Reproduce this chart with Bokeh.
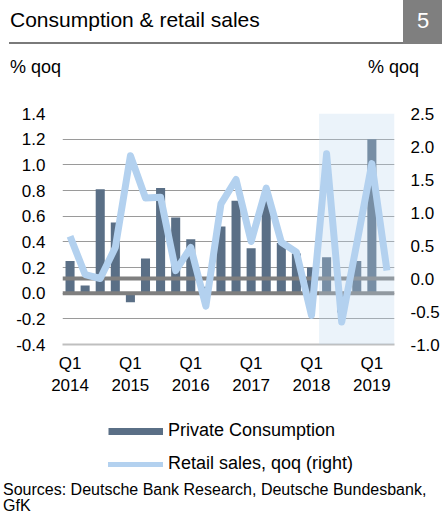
from bokeh.plotting import figure
from bokeh.models import (Range1d, LinearAxis, FixedTicker, NumeralTickFormatter,
                          BoxAnnotation, Span, Legend, LegendItem, ColumnDataSource, Div)
from bokeh.layouts import column
from bokeh.embed import file_html
from bokeh.resources import INLINE
import html
import numpy as np

FONT = "Liberation Sans"
CSSFONT = "Liberation Sans, Arial, sans-serif"

quarters = ["Q1 2014", "Q2 2014", "Q3 2014", "Q4 2014",
            "Q1 2015", "Q2 2015", "Q3 2015", "Q4 2015",
            "Q1 2016", "Q2 2016", "Q3 2016", "Q4 2016",
            "Q1 2017", "Q2 2017", "Q3 2017", "Q4 2017",
            "Q1 2018", "Q2 2018", "Q3 2018", "Q4 2018",
            "Q1 2019", "Q2 2019"]
consumption = [0.25, 0.06, 0.81, 0.55, -0.07, 0.27, 0.82, 0.59, 0.42, 0.05,
               0.52, 0.72, 0.35, 0.73, 0.39, 0.31, 0.20, 0.28, -0.15, 0.25,
               1.20, np.nan]
retail = [0.64, 0.06, 0.00, 0.47, 1.86, 1.22, 1.23, 0.12, 0.47, -0.42,
          1.13, 1.50, 0.56, 1.37, 0.55, 0.40, -0.56, 1.89, -0.66, 0.53,
          1.74, 0.12]
left_ticks = [-0.4, -0.2, 0.0, 0.2, 0.4, 0.6, 0.8, 1.0, 1.2, 1.4]
right_ticks = [-1.0, -0.5, 0.0, 0.5, 1.0, 1.5, 2.0, 2.5]
shade_from = "Q2 2018"

title_text = "Consumption & retail sales"
chart_no = "5"
unit_text = "% qoq"
series_names = ["Private Consumption", "Retail sales, qoq (right)"]
source_lines = ["Sources: Deutsche Bank Research, Deutsche Bundesbank,", "GfK"]

idx = list(range(len(quarters)))
src = ColumnDataSource(dict(x=idx, cons=consumption, retail=retail))

BAR = "#5A6F86"
LINE = "#B3D1EF"
W = 442
BL, BR = 62, 48   # frame borders shared by the chart and the legend strip


def txt(s, left, top, size, color="#000000"):
    return ('<div style="position:absolute;left:%spx;top:%spx;font-family:%s;'
            'font-size:%spx;line-height:1;white-space:nowrap;color:%s">%s</div>'
            % (left, top, CSSFONT, size, color, html.escape(s)))


# ---------------- header (title bar + unit labels) ----------------
HH = 80
header_html = (
    '<div style="position:relative;width:%dpx;height:%dpx;overflow:hidden">' % (W, HH)
    + txt(title_text, 10, 9, 21)
    + '<div style="position:absolute;left:9px;top:42px;width:394px;height:2px;background:#7A7A7A"></div>'
    + '<div style="position:absolute;left:403px;top:0px;width:39px;height:44px;background:#7F7F7F"></div>'
    + txt(chart_no, 417, 10, 22, "#FFFFFF")
    + txt(unit_text, 10, 58, 18)
    + txt(unit_text, 368, 58, 18)
    + '</div>')
header = Div(text=header_html, width=W, height=HH, margin=0)

# ---------------- main chart ----------------
p = figure(width=W, height=320, x_range=Range1d(-0.5, len(quarters) - 0.5),
           y_range=Range1d(left_ticks[0], left_ticks[-1]),
           toolbar_location=None, output_backend="svg",
           min_border_left=BL, min_border_right=BR, min_border_top=33,
           min_border_bottom=56)
p.outline_line_color = None
p.xgrid.visible = False
p.ygrid.ticker = FixedTicker(ticks=left_ticks)
p.ygrid.grid_line_color = "#9A9A9A"
p.ygrid.grid_line_width = 1

p.extra_y_ranges = {"right": Range1d(right_ticks[0], right_ticks[-1])}

ya = p.yaxis[0]
ya.ticker = FixedTicker(ticks=left_ticks)
ya.formatter = NumeralTickFormatter(format="0.0")
ya.axis_line_color = None
ya.major_tick_line_color = None
ya.minor_tick_line_color = None
ya.major_tick_out = 0
ya.major_label_standoff = 17
ya.major_label_text_font = FONT
ya.major_label_text_font_size = "17px"
ya.major_label_text_color = "#000000"

ra = LinearAxis(y_range_name="right", ticker=FixedTicker(ticks=right_ticks),
                formatter=NumeralTickFormatter(format="0.0"))
ra.axis_line_color = None
ra.major_tick_line_color = None
ra.minor_tick_line_color = None
ra.major_tick_out = 0
ra.major_label_standoff = 16
ra.major_label_text_align = "left"
ra.major_label_text_font = FONT
ra.major_label_text_font_size = "17px"
ra.major_label_text_color = "#000000"
p.add_layout(ra, "right")

xticks = [i for i, q in enumerate(quarters) if q.startswith("Q1")]
xa = p.xaxis[0]
xa.ticker = FixedTicker(ticks=xticks)
xa.major_label_overrides = {i: quarters[i].replace(" ", "\n") for i in xticks}
xa.major_tick_line_color = None
xa.minor_tick_line_color = None
xa.major_tick_out = 0
xa.axis_line_color = "#BFBFBF"
xa.axis_line_width = 2
xa.major_label_standoff = 9
xa.major_label_text_font = FONT
xa.major_label_text_font_size = "17px"
xa.major_label_text_color = "#000000"

bars = p.vbar(x="x", top="cons", bottom=0, width=0.6, source=src,
              fill_color=BAR, line_color=None)

p.add_layout(Span(location=0, dimension="width", line_color="#7F7F7F", line_width=4))
p.add_layout(Span(location=0, dimension="width", y_range_name="right",
                  line_color="#7F7F7F", line_width=4))

s0 = quarters.index(shade_from) - 0.5
p.add_layout(BoxAnnotation(left=s0, right=len(quarters) - 0.5,
                           fill_color="#BDD7EE", fill_alpha=0.3, line_color=None))

ln = p.line(x="x", y="retail", source=src, y_range_name="right",
            line_color=LINE, line_width=7, line_join="round", level="overlay")

# ---------------- legend strip ----------------
# the key renderers use the chart's data, but this strip's ranges keep them off-frame
lg = figure(width=W, height=75, x_range=Range1d(-3, -2), y_range=Range1d(-3, -2),
            x_axis_type=None, y_axis_type=None, toolbar_location=None,
            output_backend="svg", min_border_left=BL, min_border_right=BR,
            min_border_top=0, min_border_bottom=0)
lg.grid.visible = False
lg.outline_line_color = None
k_bar = lg.line(x="x", y="cons", source=src, line_color=BAR, line_width=7,
                line_cap="butt")
k_line = lg.line(x="x", y="retail", source=src, line_color=LINE, line_width=5,
                 line_cap="round")
legend = Legend(items=[LegendItem(label=series_names[0], renderers=[k_bar]),
                       LegendItem(label=series_names[1], renderers=[k_line])],
                location=(46, 1), orientation="vertical",
                glyph_width=55, glyph_height=20, label_height=20,
                label_standoff=5, spacing=12, padding=0, margin=0,
                border_line_color=None, background_fill_alpha=0,
                label_text_font=FONT, label_text_font_size="18px",
                label_text_color="#000000")
lg.add_layout(legend, "center")

# ---------------- footer (sources) ----------------
FH = 39
footer_html = (
    '<div style="position:relative;width:%dpx;height:%dpx;overflow:hidden">' % (W, FH)
    + txt(source_lines[0], 3, 7, 16)
    + txt(source_lines[1], 3, 23, 16)
    + '</div>')
footer = Div(text=footer_html, width=W, height=FH, margin=0)

layout = column(header, p, lg, footer, spacing=0)
open("out.html", "w").write(file_html(layout, INLINE))
